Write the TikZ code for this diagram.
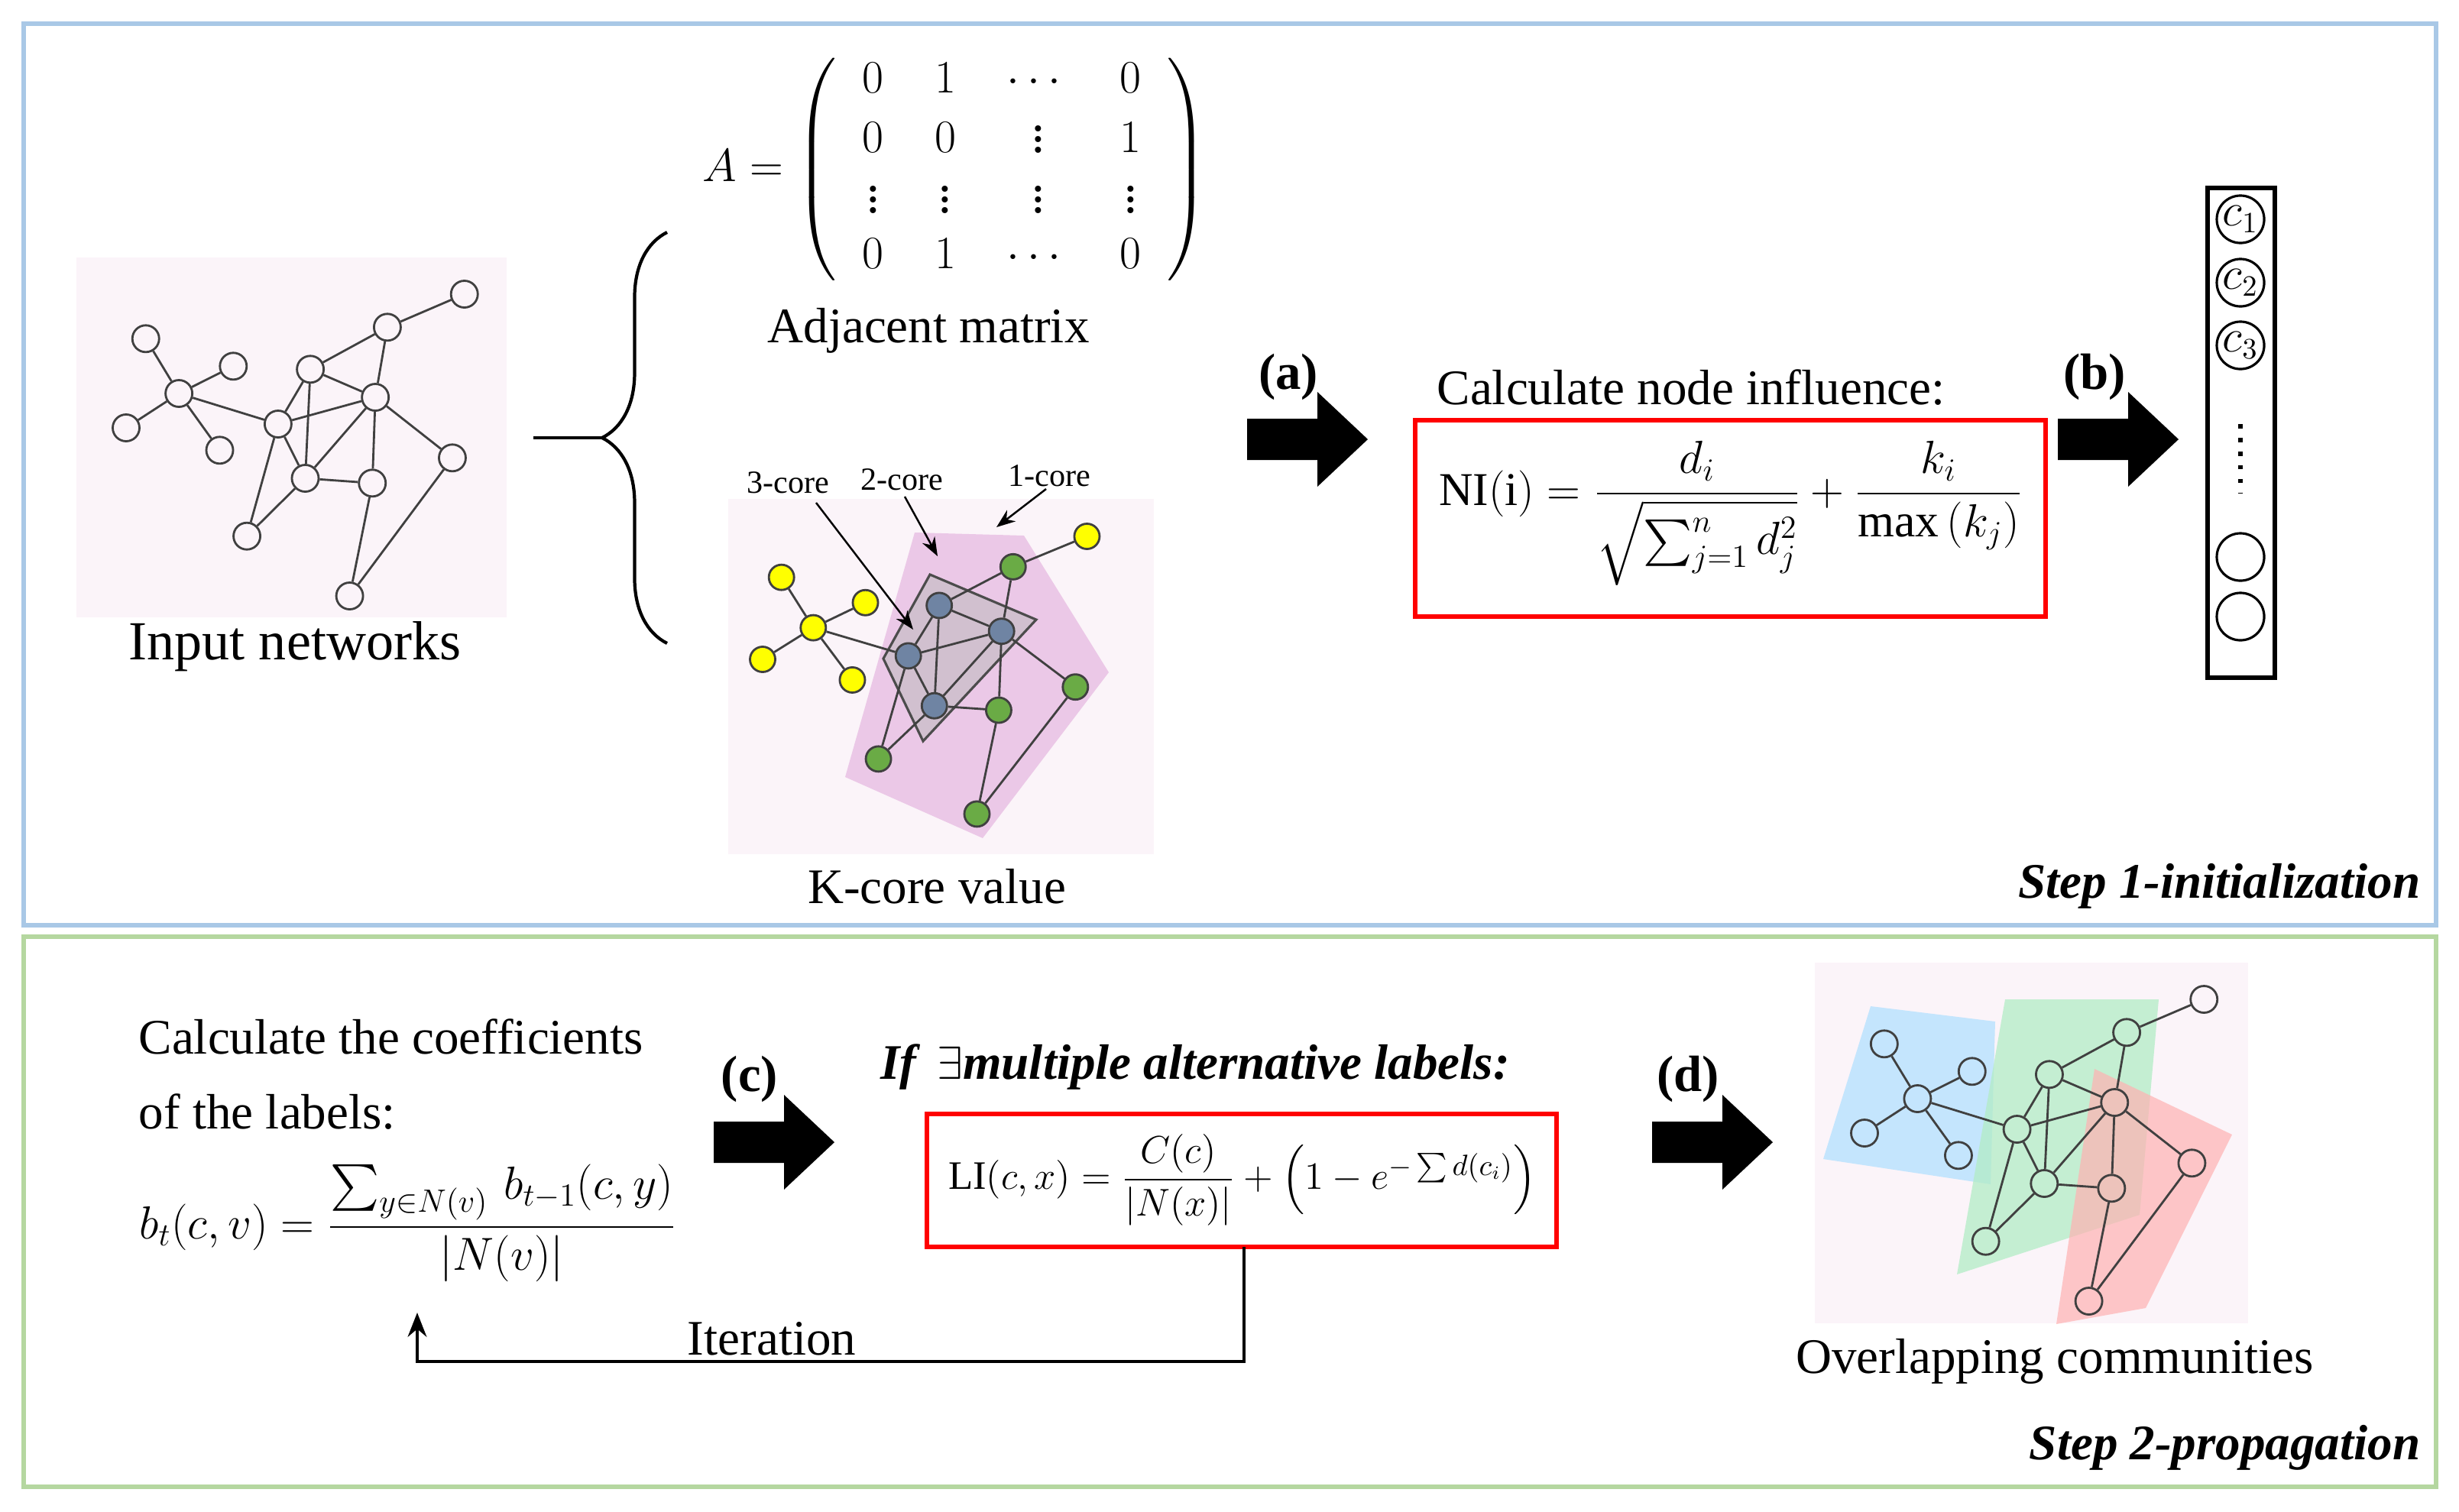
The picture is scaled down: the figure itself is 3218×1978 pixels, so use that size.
\documentclass[tikz,border=0pt]{standalone}
\usepackage{amsmath}
\usepackage{fontspec}
\setmainfont{Liberation Serif}
\usetikzlibrary{decorations.pathreplacing,arrows.meta}
\definecolor{bgpink}{HTML}{FBF4F9}
\definecolor{frameblue}{HTML}{A9C8E6}
\definecolor{framegreen}{HTML}{B5D7A0}
\definecolor{kpink}{HTML}{E9C1E4}
\definecolor{kyellow}{HTML}{FFFF00}
\definecolor{kgreen}{HTML}{6AAB45}
\definecolor{kblue}{HTML}{6F84A3}
\tikzset{
  gn/.style={circle,draw=black!75,line width=0.8pt,minimum size=0.35cm,inner sep=0pt},
  gY/.style={gn}, gB/.style={gn}, gG/.style={gn},
  ge/.style={draw=black!75,line width=0.8pt},
  frame/.style={line width=1.8pt},
  txt/.style={font=\fontsize{18.5}{22}\selectfont,inner sep=0pt},
  stepl/.style={font=\fontsize{18.5}{22}\selectfont\bfseries\itshape,inner sep=0pt,anchor=east},
  lbl/.style={font=\fontsize{19}{22}\selectfont\bfseries,inner sep=0pt},
  redbox/.style={draw=red,line width=1.5pt},
  core/.style={font=\fontsize{12}{14}\selectfont,inner sep=0pt},
  vc/.style={circle,draw=black,line width=0.9pt,minimum size=0.62cm,inner sep=0pt,font=\fontsize{16}{18}\selectfont},
  pics/net/.style={code={
    \node[gY] (-n1) at (21.7,-116.7) {};
    \node[gY] (-n2) at (118.3,-80.7) {};
    \node[gY] (-n3) at (58.3,-45) {};
    \node[gY] (-n4) at (0,0) {};
    \node[gY] (-n5) at (103.3,29.3) {};
    \node[gB] (-n6) at (167.7,-5) {};
    \node[gB] (-n7) at (203.3,-76.7) {};
    \node[gG] (-n8) at (288.3,-131.7) {};
    \node[gY] (-n9) at (373.3,-175) {};
    \node[gB] (-n10) at (275,-40) {};
    \node[gB] (-n11) at (197.7,66) {};
    \node[gG] (-n12) at (271.7,72.3) {};
    \node[gG] (-n13) at (360,39.3) {};
    \node[gG] (-n14) at (133.3,141.7) {};
    \node[gG] (-n15) at (246.7,220) {};
    \foreach \a/\b in {1/3,2/3,4/3,5/3,3/6,6/7,6/10,6/11,6/14,7/8,7/10,7/11,8/9,8/10,10/11,10/12,10/13,11/12,11/14,12/15,13/15}
      \path[ge] (-n\a) -- (-n\b);
  }},
  pics/fat/.style={code={
    \fill[black] (0,-27) -- (92,-27) -- (92,-62) -- (158,0) -- (92,62) -- (92,27) -- (0,27) -- cycle;
  }}
}
\begin{document}
\begin{tikzpicture}[x=0.01cm,y=-0.01cm]
\useasboundingbox (0,0) rectangle (3218,1978);
\fill[white] (0,0) rectangle (3218,1978);
% frames
\draw[frame,draw=frameblue] (31,31) rectangle (3188,1211);
\draw[frame,draw=framegreen] (31,1226) rectangle (3188,1946);

% input network
\fill[bgpink] (100,337) rectangle (663,808);
\pic[xscale=1.186] (g1) at (165,560) {net};
\node[txt,font=\fontsize{20.5}{24}\selectfont] (inlbl) at (386,846) {Input networks};

% brace
\draw[line width=1.2pt,decorate,decoration={brace,amplitude=0.85cm,aspect=0.5}] (873,842) -- (873,304);
\coordinate (btip) at (788,573);
\coordinate (bstub) at (698,573);
\draw[line width=1.2pt] (btip) -- (bstub);

% matrix
\node[inner sep=0pt,font=\fontsize{19}{22}\selectfont] (mat) at (1250,222)
 {$A=\left(\renewcommand{\arraystretch}{0.95}\setlength{\arraycolsep}{0.5em}\begin{array}{cccc}0&1&\cdots&0\\0&0&\vdots&1\\\vdots&\vdots&\vdots&\vdots\\0&1&\cdots&0\end{array}\right)$};
\node[txt] (matlbl) at (1215,433) {Adjacent matrix};

% k-core
\fill[bgpink] (953,653) rectangle (1510,1118);
\fill[kpink,opacity=0.85] (1197,697) -- (1340,701) -- (1451,880) -- (1286,1097) -- (1106,1017) -- cycle;
\filldraw[fill=gray!55,fill opacity=0.5,draw=black!70,line width=0.9pt] (1217,752) -- (1356,811) -- (1208,970) -- (1156,862) -- cycle;
\begin{scope}[gY/.style={gn,fill=kyellow,minimum size=0.33cm},gB/.style={gn,fill=kblue,minimum size=0.33cm},gG/.style={gn,fill=kgreen,minimum size=0.33cm}]
\pic[xscale=1.137,yscale=0.92] (g2) at (998,863) {net};
\end{scope}
\node[core] (c3l) at (1031,632) {3-core};
\node[core] (c2l) at (1180,628) {2-core};
\node[core] (c1l) at (1373,623) {1-core};
\coordinate (c3t) at (1195,824);
\coordinate (c2t) at (1227,728);
\coordinate (c1t) at (1304,690);
\draw[-{Stealth[length=7pt]},line width=0.7pt] (1068,658) -- (c3t);
\draw[-{Stealth[length=7pt]},line width=0.7pt] (1184,650) -- (c2t);
\draw[-{Stealth[length=7pt]},line width=0.7pt] (1369,640) -- (c1t);
\node[txt] (klbl) at (1226,1160) {K-core value};

% arrow a
\pic at (1632,575) {fat};
\node[lbl] (la) at (1686,493) {(a)};
\node[txt] (cni) at (2213,507) {Calculate node influence:};
\draw[redbox] (1852,550) rectangle (2677,807);
\node[inner sep=0pt,font=\fontsize{17.5}{21}\selectfont] (ni) at (2265,672)
 {$\mathrm{NI(i)}=\dfrac{d_i}{\sqrt{\sum_{j=1}^{n}d_j^2}}+\dfrac{k_i}{\max\,(k_j)}$};

% arrow b
\pic at (2693,575) {fat};
\node[lbl] (lb) at (2741,493) {(b)};
\draw[line width=1.6pt] (2889,246) rectangle (2977,887);
\node[vc] (v1) at (2932,287) {$c_1$};
\node[vc] (v2) at (2932,370) {$c_2$};
\node[vc] (v3) at (2932,452) {$c_3$};
\coordinate (vdt) at (2932,555);
\coordinate (vdb) at (2932,645);
\draw[line width=1.6pt,dash pattern=on 1.6pt off 3.5pt] (vdt) -- (vdb);
\node[vc] (v4) at (2932,729) {};
\node[vc] (v5) at (2932,807) {};
\node[stepl] (s1) at (3168,1160) {Step 1-initialization};

% bottom
\node[txt,align=left,anchor=west] (coef) at (181,1406) {Calculate the coefficients\\[0.2cm]of the labels:};
\node[inner sep=0pt,font=\fontsize{16.5}{20}\selectfont] (bt) at (534,1601)
 {$b_t(c,v)=\dfrac{\sum_{y\in N(v)}\,b_{t-1}(c,y)}{|N(v)|}$};
\pic at (934,1495) {fat};
\node[lbl] (lc) at (981,1412) {(c)};
\node[inner sep=0pt,font=\fontsize{18.5}{22}\selectfont\bfseries\itshape] (ifl) at (1564,1396) {If\, $\exists$multiple alternative labels:};
\draw[redbox] (1213,1458) rectangle (2037,1632);
\node[inner sep=0pt,font=\fontsize{15}{18}\selectfont] (li) at (1626,1544)
 {$\mathrm{LI}(c,x)=\dfrac{C(c)}{|N(x)|}+\left(1-e^{-\sum d(c_i)}\right)$};
\coordinate (it1) at (1628,1782);
\coordinate (it2) at (546,1782);
\coordinate (it3) at (546,1718);
\draw[line width=1.3pt,-{Stealth[length=9pt,width=7pt]}] (1628,1632) -- (it1) -- (it2) -- (it3);
\node[txt] (itl) at (1010,1752) {Iteration};

\pic at (2162,1495) {fat};
\node[lbl] (ld) at (2209,1412) {(d)};
\fill[bgpink] (2375,1260) rectangle (2942,1732);
\fill[blue!40!cyan!30!white,fill opacity=0.75] (2448,1317) -- (2611,1337) -- (2605,1550) -- (2386,1517) -- cycle;
\fill[green!50!teal!30!white,fill opacity=0.75] (2624,1308) -- (2825,1308) -- (2800,1590) -- (2561,1668) -- cycle;
\fill[red!30,fill opacity=0.7] (2741,1399) -- (2921,1485) -- (2808,1712) -- (2691,1733) -- cycle;
\pic[xscale=1.19] (g3) at (2440,1483) {net};
\node[txt] (ocl) at (2689,1782) {Overlapping communities};
\node[stepl] (s2) at (3168,1895) {Step 2-propagation};
\end{tikzpicture}
\end{document}
